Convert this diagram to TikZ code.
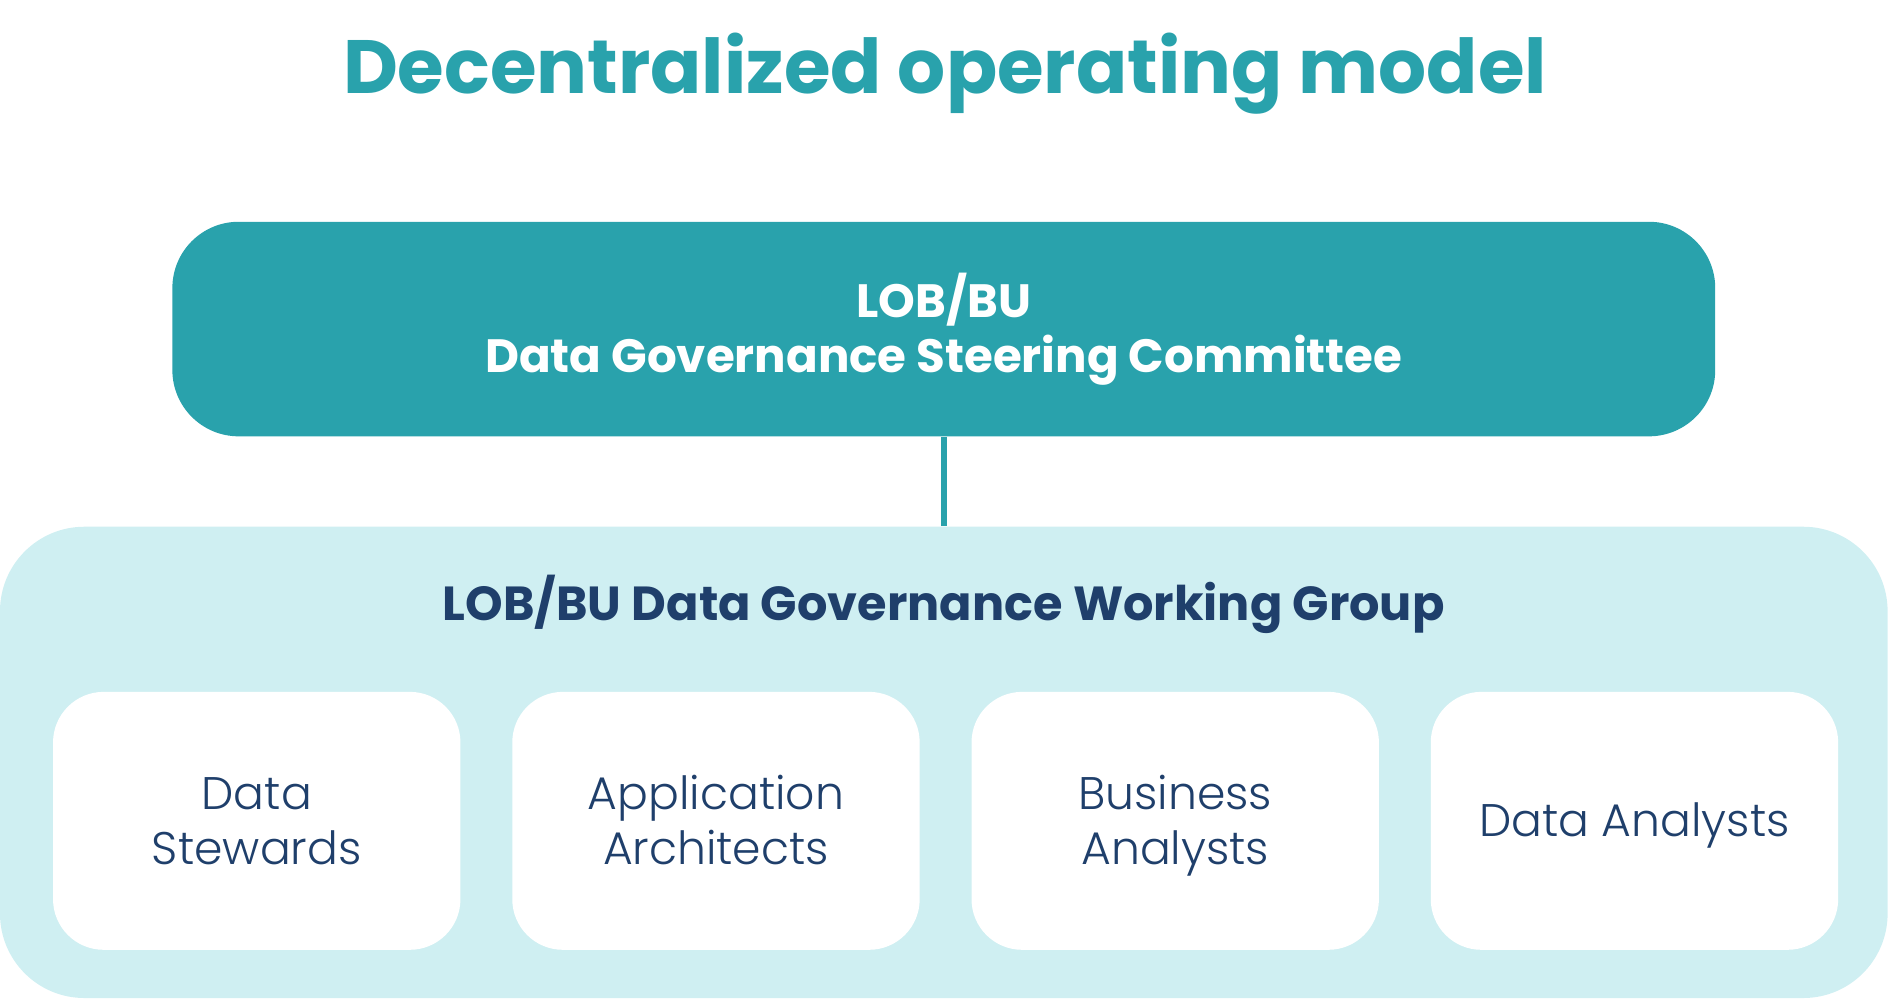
\documentclass[tikz,border=0pt]{standalone}
\usepackage{fontspec}
\setmainfont{Poppins}
\newfontfamily\lightfont{Poppins}[UprightFont=* Light]
\usepackage{tikz}
\usetikzlibrary{positioning}

\definecolor{teal}{HTML}{29A2AC}
\definecolor{paleteal}{HTML}{CFEFF2}
\definecolor{navy}{HTML}{1F3F6B}
\def\pxu{0.3430pt}

\tikzset{
  committee/.style={fill=teal, text=white, font=\bfseries\fontsize{13.3}{15.8}\selectfont,
    align=center, inner sep=0pt, minimum width=1280*\pxu, minimum height=178*\pxu,
    rounded corners=55*\pxu},
  group/.style={fill=paleteal, inner sep=0pt, minimum width=1566*\pxu,
    minimum height=391*\pxu, rounded corners=70*\pxu},
  role/.style={fill=white, text=navy, font=\lightfont\fontsize{13}{15.5}\selectfont, align=center,
    inner sep=0pt, text height=9.1pt, text depth=0pt, minimum width=338*\pxu,
    minimum height=214*\pxu, rounded corners=42*\pxu},
  twoline/.style={text height=24.6pt},
  link/.style={draw=teal, line width=5*\pxu}
}

\begin{document}
\begin{tikzpicture}[x=\pxu, y=-\pxu]
  \useasboundingbox (0,0) rectangle (1568,828);

  % titel
  \node[text=teal, font=\bfseries\fontsize{21.5}{26}\selectfont] (title) at (784,61)
    {Decentralized operating model};

  % stuurgroep
  \node[committee] (steer) at (783,273) {LOB/BU\\Data Governance Steering Committee};

  % werkgroep
  \node[group] (work) at (783,632.5) {};
  \node[text=navy, font=\bfseries\fontsize{13.6}{16}\selectfont] (worktitle) at (783,501)
    {LOB/BU Data Governance Working Group};

  \draw[link] (steer.south) -- (work.north);

  % rollen
  \node[role,twoline] (stewards)   at (213,681)  {Data\\Stewards};
  \node[role,twoline] (architects) at (594,681)  {Application\\Architects};
  \node[role,twoline] (business)   at (975,681)  {Business\\Analysts};
  \node[role]         (analysts)   at (1356,681) {Data Analysts};
\end{tikzpicture}
\end{document}
